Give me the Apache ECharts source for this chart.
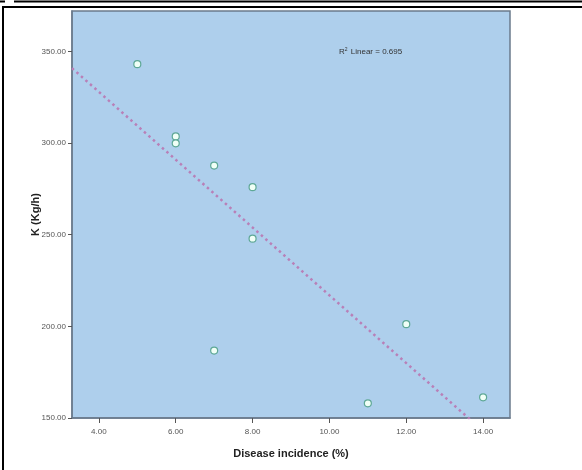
<!DOCTYPE html>
<html>
<head>
<meta charset="utf-8">
<script src="https://cdn.jsdelivr.net/npm/echarts@6/dist/echarts.min.js"></script>
<style>html,body{margin:0;padding:0;background:#fff}#c{width:582px;height:470px}</style>
</head>
<body>
<div id="c"></div>
<script>
const diseaseIncidence = [5, 6, 6, 7, 8, 8, 7, 11, 12, 14];
const kValues = [343, 303.6, 299.8, 287.7, 275.9, 247.8, 186.8, 158, 201.2, 161.3];
const xTicks = [4, 6, 8, 10, 12, 14];
const yTicks = [150, 200, 250, 300, 350];
const r2Label = 'R² Linear = 0.695';

const xMin = 3.3, xMax = 14.7, yMin = 150, yMax = 372;

// least squares fit
const n = diseaseIncidence.length;
const mx = diseaseIncidence.reduce((a, b) => a + b, 0) / n;
const my = kValues.reduce((a, b) => a + b, 0) / n;
let sxy = 0, sxx = 0;
for (let i = 0; i < n; i++) {
  sxy += (diseaseIncidence[i] - mx) * (kValues[i] - my);
  sxx += (diseaseIncidence[i] - mx) ** 2;
}
const slope = sxy / sxx, intercept = my - slope * mx;
const fitLine = [[xMin, intercept + slope * xMin], [xMax, intercept + slope * xMax]];

const chart = echarts.init(document.getElementById('c'));
chart.setOption({
  backgroundColor: '#ffffff',
  animation: false,
  grid: {
    left: 72, right: 72, top: 11, bottom: 52,
    show: true, backgroundColor: '#aecfec', borderColor: '#6b7b8c', borderWidth: 1.5
  },
  xAxis: {
    type: 'value', min: xMin, max: xMax,
    name: 'Disease incidence (%)', nameLocation: 'middle', nameGap: 30, nameMoveOverlap: false,
    nameTextStyle: { fontFamily: 'Liberation Sans', fontSize: 11, fontWeight: 'bold', color: '#222' },
    axisLine: { show: true, lineStyle: { color: '#6b7b8c', width: 1.5 } },
    axisTick: { show: true, length: 5, customValues: xTicks, lineStyle: { color: '#555' } },
    axisLabel: {
      customValues: xTicks, formatter: v => v.toFixed(2),
      fontFamily: 'Liberation Sans', fontSize: 8, color: '#555', margin: 10
    },
    splitLine: { show: false }
  },
  yAxis: {
    type: 'value', min: yMin, max: yMax,
    name: 'K (Kg/h)', nameLocation: 'middle', nameGap: 31, nameRotate: 90, nameMoveOverlap: false,
    nameTextStyle: { fontFamily: 'Liberation Sans', fontSize: 11, fontWeight: 'bold', color: '#222' },
    axisLine: { show: true, lineStyle: { color: '#6b7b8c', width: 1.5 } },
    axisTick: { show: true, length: 4, customValues: yTicks, lineStyle: { color: '#555' } },
    axisLabel: {
      customValues: yTicks, formatter: v => v.toFixed(2),
      fontFamily: 'Liberation Sans', fontSize: 8, color: '#555', margin: 6
    },
    splitLine: { show: false }
  },
  series: [
    {
      type: 'line', data: fitLine, showSymbol: false, silent: true,
      lineStyle: { color: '#b880b8', width: 2.5, type: [2.5, 3.5] },
      clip: true, z: 2
    },
    {
      type: 'scatter',
      data: diseaseIncidence.map((x, i) => [x, kValues[i]]),
      symbol: 'circle', symbolSize: 7,
      itemStyle: { color: '#f0fff6', borderColor: '#5ea896', borderWidth: 1.2, opacity: 1 },
      z: 3
    }
  ],
  graphic: [
    { type: 'text', left: 339, top: 47, style: {
        text: '{a|R}{s|2}{a| Linear = 0.695}',
        rich: {
          a: { fontFamily: 'Liberation Sans', fontSize: 8, fill: '#333' },
          s: { fontFamily: 'Liberation Sans', fontSize: 5, fill: '#333', verticalAlign: 'top', padding: [0, 1, 5, 0] }
        }
      } },
    { type: 'line', shape: { x1: 0, y1: 1.5, x2: 5, y2: 1.5 }, style: { stroke: '#000', lineWidth: 2 } },
    { type: 'line', shape: { x1: 14, y1: 1.5, x2: 582, y2: 1.5 }, style: { stroke: '#000', lineWidth: 2 } },
    { type: 'line', shape: { x1: 2, y1: 7, x2: 582, y2: 7 }, style: { stroke: '#000', lineWidth: 2 } },
    { type: 'line', shape: { x1: 3, y1: 7, x2: 3, y2: 470 }, style: { stroke: '#000', lineWidth: 2 } }
  ]
});
</script>
</body>
</html>
